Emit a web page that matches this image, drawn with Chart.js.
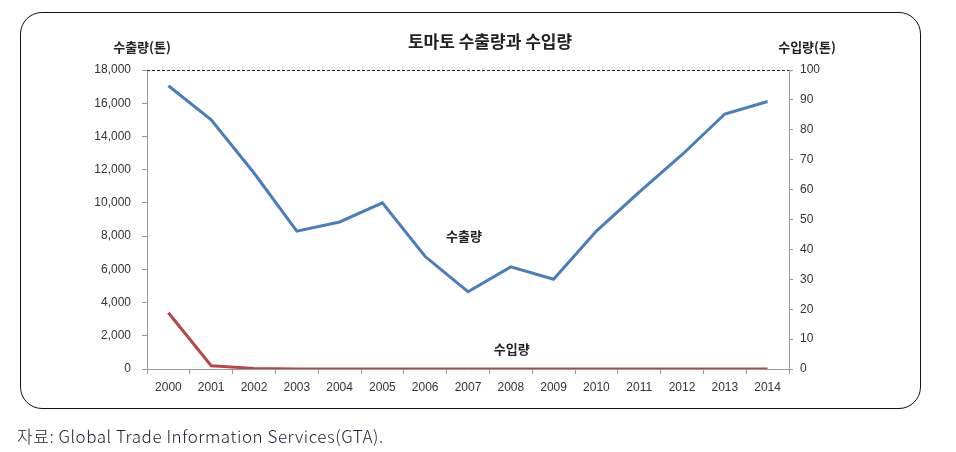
<!DOCTYPE html>
<html><head><meta charset="utf-8">
<script src="https://cdn.jsdelivr.net/npm/chart.js@4"></script>
<style>
html,body{margin:0;padding:0;background:#fff;}
#wrap{position:relative;width:956px;height:452px;overflow:hidden;}
#box{position:absolute;left:20px;top:12px;width:901px;height:397px;border:1.5px solid #111;border-radius:22px;box-sizing:border-box;}
#cv{position:absolute;left:0;top:0;}
#cap{position:absolute;left:17px;top:423px;font:300 17px "Noto Sans CJK KR","Noto Sans",sans-serif;letter-spacing:0.55px;color:#1c1c38;white-space:nowrap;}
</style></head>
<body>
<div id="wrap">
<div id="box"></div>
<canvas id="cv" width="956" height="452"></canvas>
<div id="cap">자료: Global Trade Information Services(GTA).</div>
</div>
<script>
const years = ['2000','2001','2002','2003','2004','2005','2006','2007','2008','2009','2010','2011','2012','2013','2014'];
const exportTons = [17050, 15000, 11800, 8300, 8850, 10000, 6770, 4650, 6150, 5400, 8300, 10650, 12900, 15350, 16100];
const importTons = [18.8, 1.1, 0.2, 0, 0, 0, 0, 0, 0, 0, 0, 0, 0, 0, 0];
const leftTicks = {min: 0, max: 18000, step: 2000};
const rightTicks = {min: 0, max: 100, step: 10};
const titleText = '토마토 수출량과 수입량';
const leftTitle = '수출량(톤)';
const rightTitle = '수입량(톤)';
const exportLabel = {text: '수출량', cat: '2007', value: 8000, dx: -4};
const importLabel = {text: '수입량', cat: '2008', value: 1200, dx: 1};

const KFONT = '"Noto Sans CJK KR", "Noto Sans", sans-serif';
const NFONT = '"Liberation Sans", Arial, sans-serif';

const overlay = {
  id: 'overlay',
  afterDraw(chart) {
    const c = chart.ctx, a = chart.chartArea, sx = chart.scales.x, sy = chart.scales.y;
    c.save();
    const yTop = sy.getPixelForValue(leftTicks.max);
    c.strokeStyle = '#222'; c.lineWidth = 1; c.setLineDash([3, 2]);
    c.beginPath(); c.moveTo(a.left, yTop + 0.5); c.lineTo(a.right, yTop + 0.5); c.stroke();
    c.setLineDash([]);
    c.fillStyle = '#222';
    c.textBaseline = 'middle';
    c.textAlign = 'center';
    c.font = 'bold 17px ' + KFONT;
    c.fillText(titleText, 490, 42);
    c.font = 'bold 13px ' + KFONT;
    c.fillText(leftTitle, 142, 47);
    c.fillText(rightTitle, 807, 47);
    [exportLabel, importLabel].forEach(l => {
      const x = sx.getPixelForValue(years.indexOf(l.cat)) + l.dx;
      const y = sy.getPixelForValue(l.value);
      c.fillText(l.text, x, y);
    });
    c.restore();
  }
};

new Chart(document.getElementById('cv'), {
  type: 'line',
  data: {
    labels: years,
    datasets: [
      {label: '수출량', data: exportTons, yAxisID: 'y', borderColor: '#4A7EBB', borderWidth: 3, pointRadius: 0, tension: 0},
      {label: '수입량', data: importTons, yAxisID: 'y1', borderColor: '#B94643', borderWidth: 3, pointRadius: 0, tension: 0}
    ]
  },
  options: {
    responsive: false,
    animation: false,
    layout: {padding: {top: 70, left: 0, right: 0, bottom: 0}},
    plugins: {legend: {display: false}, tooltip: {enabled: false}, title: {display: false}},
    scales: {
      x: {
        offset: true,
        grid: {offset: true, drawOnChartArea: false, tickLength: 5, color: '#9a9a9a'},
        border: {color: '#9a9a9a', width: 1},
        ticks: {color: '#333', font: {family: NFONT, size: 12}, padding: 6, maxRotation: 0, autoSkip: false},
        afterFit(s) { s.height = 83; }
      },
      y: {
        position: 'left', min: leftTicks.min, max: leftTicks.max,
        grid: {drawOnChartArea: false, tickLength: 5, color: '#9a9a9a'},
        border: {color: '#9a9a9a', width: 1},
        ticks: {stepSize: leftTicks.step, color: '#333', font: {family: NFONT, size: 12}, padding: 11,
          callback: v => v.toLocaleString('en-US')},
        afterFit(s) { s.width = 147; }
      },
      y1: {
        position: 'right', min: rightTicks.min, max: rightTicks.max,
        grid: {drawOnChartArea: false, tickLength: 4, color: '#9a9a9a'},
        border: {color: '#9a9a9a', width: 1},
        ticks: {stepSize: rightTicks.step, color: '#333', font: {family: NFONT, size: 12}, padding: 7},
        afterFit(s) { s.width = 167; }
      }
    }
  },
  plugins: [overlay]
});
</script>
</body></html>
